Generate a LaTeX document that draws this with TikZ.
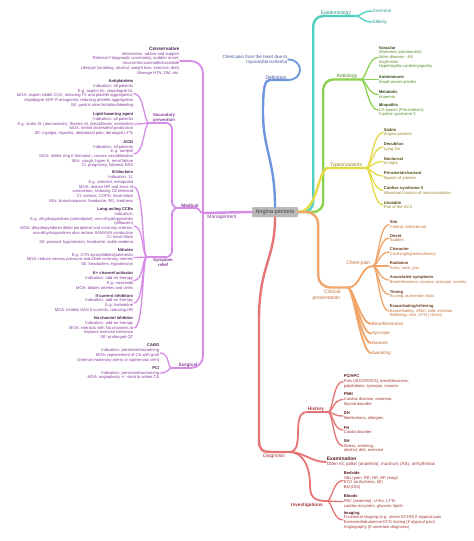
\documentclass[tikz,border=0pt]{standalone}
\usepackage{fontspec}
\setmainfont{Liberation Sans}
\definecolor{cdef}{RGB}{108,150,222}\definecolor{tdef}{RGB}{60,80,150}
\definecolor{cepi}{RGB}{78,208,190}\definecolor{tepi}{RGB}{40,150,140}
\definecolor{caet}{RGB}{140,210,78}\definecolor{taet}{RGB}{85,140,40}
\definecolor{ctyp}{RGB}{228,218,72}\definecolor{ttyp}{RGB}{150,135,35}
\definecolor{ccli}{RGB}{242,165,105}\definecolor{tcli}{RGB}{195,110,55}
\definecolor{cdia}{RGB}{230,118,118}\definecolor{tdia}{RGB}{165,55,55}
\definecolor{cman}{RGB}{215,140,232}\definecolor{tman}{RGB}{135,60,155}
\newcommand{\hd}[1]{\textbf{\color{.!55!black}#1}}

\begin{document}
\begin{tikzpicture}[x=1pt, y=-1pt,
    every node/.style={inner sep=0.6pt},
    lab/.style={font=\fontsize{5}{5.6}\selectfont, align=center},
    labb/.style={font=\fontsize{4.7}{5.3}\selectfont\bfseries, align=center},
    item/.style={font=\fontsize{4.6}{5}\selectfont, anchor=west},
    leaf/.style={font=\fontsize{4.1}{4.7}\selectfont, align=left, anchor=west},
    leafl/.style={font=\fontsize{4.1}{4.7}\selectfont, align=right, anchor=east},
    mainbr/.style={line width=2.4pt, line cap=round},
    subbr/.style={line width=1.8pt, line cap=round},
    twig/.style={line width=1.3pt, line cap=round},
    rfork/.style={out=0, in=180, out distance=5pt, in distance=10pt},
    lfork/.style={out=180, in=0, out distance=5pt, in distance=10pt}]
  \path[use as bounding box, fill=white] (0,0) rectangle (474,541);

  % Central topic
  \node[fill=gray!55, rounded corners=1pt, text=black!75, minimum width=46pt, minimum height=10pt,
    font=\fontsize{5.6}{6}\selectfont] (ap) at (275,212) {Angina pectoris};

  % Definition
  \node[lab, anchor=south, text=tdef] (def) at (276,80) {Definition};
  \coordinate (deff) at (288,80);
  \node[font=\fontsize{4.5}{5}\selectfont, align=right, anchor=east, text=tdef] (defc) at (288,59.5)
    {Chest pain from the heart due to\\myocardial ischemia};
  \draw[mainbr, cdef] (ap.north) .. controls (275,160) and (263,150) .. (263,112)
    .. controls (263,86) and (265,80) .. (270,80) -- (deff);
  \draw[subbr, cdef] (deff) .. controls (304,80) and (304,59.5) .. (defc.east);

  % Epidemiology
  \node[lab, anchor=south, text=tepi] (epi) at (336,16) {Epidemiology};
  \coordinate (epif) at (356,16);
  \node[item, text=tepi] (common) at (372,11) {Common};
  \node[item, text=tepi] (elderly) at (372,22) {Elderly};
  \draw[mainbr, cepi, rounded corners=10pt] (ap.east) -- ++(15,0) |- (epif);
  \foreach \n in {common,elderly}
    \draw[twig, cepi] (epif) to[rfork] (\n.west);

  % Aetiology
  \node[lab, anchor=south, text=taet] (aet) at (347,79.5) {Aetiology};
  \coordinate (aetf) at (361,79.5);
  \node[leaf, text=taet] (vasc) at (378,57.5) {\hd{Vascular}\\Atheroma (commonest)\\Valve disease - AS\\Arrythmias\\Hypertrophic cardiomyopathy};
  \node[leaf, text=taet] (auto) at (378,79.5) {\hd{Autoimmune}\\Small vessel arteritis};
  \node[leaf, text=taet] (meta) at (378,94.5) {\hd{Metabolic}\\Anaemia};
  \node[leaf, text=taet] (idio) at (378,110) {\hd{Idiopathic}\\CA spasm (Prinzmetal's)\\Cardiac syndrome X};
  \draw[mainbr, caet, rounded corners=10pt] (ap.east) -- ++(25,0) |- (aetf);
  \foreach \n in {vasc,auto,meta,idio}
    \draw[twig, caet] (aetf) to[rfork] (\n.west);

  % Types/variants
  \node[lab, anchor=south, text=ttyp] (typ) at (346,168) {Types/variants};
  \coordinate (typf) at (366,168);
  \node[leaf, text=ttyp] (stable) at (383,132.5) {\hd{Stable}\\Angina pectoris};
  \node[leaf, text=ttyp] (decub) at (383,147) {\hd{Decubitus}\\Lying flat};
  \node[leaf, text=ttyp] (noct) at (383,161.5) {\hd{Nocturnal}\\At night};
  \node[leaf, text=ttyp] (prinz) at (383,176) {\hd{Prinzmetals/variant}\\Spasm of arteries};
  \node[leaf, text=ttyp] (csx) at (383,190.5) {\hd{Cardiac syndrome X}\\Abnormal function of microcirculation};
  \node[leaf, text=ttyp] (unst) at (383,205) {\hd{Unstable}\\Part of the ACS};
  \draw[mainbr, ctyp] (ap.east) .. controls (318,212) and (318,168) .. (328,168) -- (typf);
  \foreach \n in {stable,decub,noct,prinz,csx,unst}
    \draw[twig, ctyp] (typf) to[rfork] (\n.west);

  % Clinical presentation
  \coordinate (cpf) at (348,287.5);
  \node[lab, anchor=north east, align=right, text=tcli] (cp) at (341,289) {Clinical\\presentation};
  \draw[mainbr, ccli, rounded corners=12pt] (ap.east) -- ++(20,0) |- (cpf);
  \node[lab, anchor=south east, text=tcli] (chest) at (371,266) {Chest pain};
  \coordinate (chf) at (373,266);
  \draw[subbr, ccli] (cpf) to[out=0, in=180] (chf);
  \node[leaf, text=tcli] (site) at (389,224.5) {\hd{Site}\\Central, retrosternal};
  \node[leaf, text=tcli] (onset) at (389,238) {\hd{Onset}\\Sudden};
  \node[leaf, text=tcli] (charac) at (389,252) {\hd{Character}\\Crushing/tightness/heavy};
  \node[leaf, text=tcli] (radi) at (389,266) {\hd{Radiation}\\Arms, neck, jaw};
  \node[leaf, text=tcli] (assoc) at (389,280) {\hd{Associated symptoms}\\Breathlessness, nausea, syncope, anxiety};
  \node[leaf, text=tcli] (timing) at (389,294.5) {\hd{Timing}\\As long as exertion lasts};
  \node[leaf, text=tcli] (exac) at (389,311) {\hd{Exacerbating/relieving}\\Exacerbating: effort, cold, emotion\\Relieving: rest, GTN (<5min)};
  \foreach \n in {site,onset,charac,radi,assoc,timing,exac}
    \draw[twig, ccli] (chf) to[rfork] (\n.west);
  \node[item, text=tcli] (breath) at (371,324) {Breathlessness};
  \node[item, text=tcli] (sync) at (371,333.5) {Syncope};
  \node[item, text=tcli] (naus) at (371,343) {Nausea};
  \node[item, text=tcli] (sweat) at (371,353) {Sweating};
  \foreach \n in {breath,sync,naus,sweat}
    \draw[subbr, ccli] (cpf) to[rfork] (\n.west);

  % Diagnosis
  \coordinate (diaf) at (289,452);
  \node[lab, anchor=north, text=tdia] (dia) at (274,453.5) {Diagnosis};
  \draw[mainbr, cdia] (ap.south) .. controls (275,260) and (259,265) .. (259,320) -- (259,440)
    .. controls (259,450) and (262,452) .. (272,452) -- (diaf);
  \node[labb, anchor=south, text=tdia] (his) at (316,412) {History};
  \coordinate (hisf) at (328,412);
  \draw[subbr, cdia] (diaf) to[out=0, in=180] (his.south west) -- (hisf);
  \node[leaf, text=tdia] (pchpc) at (343,381.5) {\hd{PC/HPC}\\Pain (SOCRATES), breathlessness,\\palpitations, syncope, nausea};
  \node[leaf, text=tdia] (pmh) at (343,399.5) {\hd{PMH}\\Cardiac disease, anaemia,\\thyroid disorder};
  \node[leaf, text=tdia] (dh) at (343,416) {\hd{DH}\\Medications, allergies};
  \node[leaf, text=tdia] (fh) at (343,430) {\hd{FH}\\Cardio disorder};
  \node[leaf, text=tdia] (sh) at (343,446) {\hd{SH}\\Stress, smoking,\\alcohol, diet, exercise};
  \foreach \n in {pchpc,pmh,dh,fh,sh}
    \draw[twig, cdia] (hisf) to[rfork] (\n.west);
  \node[leaf, font=\fontsize{4.5}{4.9}\selectfont, text=tdia] (exa) at (326,462)
    {\hd{\fontsize{5}{4.9}\selectfont Examination}\\Often nil; pallor (anaemia), murmurs (AS), arrhythmias};
  \draw[subbr, cdia] (diaf) to[out=0, in=180] (exa.west);
  \coordinate (invf) at (327,501);
  \node[labb, anchor=north, text=tdia] (inv) at (307,502) {Investigations};
  \draw[subbr, cdia] (diaf) .. controls (304,452) and (310,468) .. (310,485)
    .. controls (310,497) and (314,501) .. (invf);
  \node[leaf, text=tdia] (bed) at (343,480.5) {\hd{Bedside}\\Obs (pain, RR, HR, BP, temp)\\ECG (arrhythmia, MI)\\BM (DM)};
  \node[leaf, text=tdia] (blo) at (343,501.5) {\hd{Bloods}\\FBC (anaemia), U+Es, LFTs\\cardiac enzymes, glucose, lipids};
  \node[leaf, text=tdia] (img) at (343,520) {\hd{Imaging}\\Functional imaging (e.g. stress ECHO) if atypical pain\\Exercise/dobutamine ECG testing (if atypical pain)\\Angiography (if uncertain diagnosis)};
  \foreach \n in {bed,blo,img}
    \draw[twig, cdia] (invf) to[rfork] (\n.west);

  % Management
  \coordinate (manf) at (203,213);
  \draw[mainbr, cman] (ap.west) -- (manf);
  \node[lab, anchor=north, text=tman] (man) at (222,214.5) {Management};
  \node[leafl, text=tman] (con) at (180,61) {\hd{\fontsize{4.8}{4.7}\selectfont Conservative}\\Information, advice and support\\Referral if diagnostic uncertainty, sudden onset,\\recurrent/uncontrolled/unstable\\Lifestyle (smoking, alcohol, weight loss, exercise, diet)\\Manage HTN, DM, etc.};
  \draw[subbr, cman, rounded corners=12pt] (manf) |- (con.east);
  % Medical
  \coordinate (medf) at (180,208);
  \node[labb, anchor=south, text=tman] (med) at (190,208) {Medical};
  \draw[subbr, cman] (manf) to[out=180, in=0] (196,208) -- (medf);
  \coordinate (spf) at (149,123);
  \node[labb, anchor=south, text=tman, font=\fontsize{4.3}{4.8}\selectfont\bfseries] (sp) at (164,123) {Secondary\\prevention};
  \draw[subbr, cman, rounded corners=6pt] (medf) -| (172,123) -- (spf);
  \coordinate (srf) at (147,257);
  \node[labb, anchor=north, text=tman, font=\fontsize{4.3}{4.8}\selectfont\bfseries] (sr) at (163,258) {Symptom\\relief};
  \draw[subbr, cman, rounded corners=6pt] (medf) -| (172,257) -- (srf);
  \node[leafl, text=tman] (anti) at (134,93.5) {\hd{Antiplatelets}\\Indication: all patients\\E.g. aspirin SL, clopidogrel SL\\MOA: aspirin inhibit COX, reducing TX and platelet aggregation;\\clopidogrel ADP R antagonist, reducing platelet aggregation\\SE: gastric ulcer/irritation/bleeding};
  \node[leafl, text=tman] (lipid) at (134,124) {\hd{Lipid-lowering agent}\\Indication: all patients\\E.g. statin SL (atorvastatin), fibrates SL (bezafibrate, ezetimibe)\\MOA: inhibit cholesterol production\\SE: myalgia, myositis, abdominal pain, deranged LFTs};
  \node[leafl, text=tman] (acei) at (134,154) {\hd{ACEi}\\Indication: all patients\\E.g. ramipril\\MOA: inhibit Ang II formation, causes vasodilatation\\SEs: cough, hyper K, renal failure\\CI: pregnancy, bilateral RAS};
  \foreach \n in {anti,lipid,acei}
    \draw[twig, cman] (spf) to[lfork] (\n.east);
  \node[leafl, text=tman] (bb) at (134,187) {\hd{B-blockers}\\Indication: 1L\\E.g. atenolol, metoprolol\\MOA: reduce HR and force of\\contraction, reducing O2 demand\\CI: asthma, COPD, heart block\\SEs: bronchospasm, headache, ED, tiredness};
  \node[leafl, text=tman] (ccb) at (134,226) {\hd{Long-acting CCBs}\\Indication:\\E.g. dihydropyridines (amlodipine), non-dihydropyridines\\(diltiazem)\\MOA: dihydropyridines dilate peripheral and coronary arteries;\\non-dihydropyridines also reduce SAN/AVN conduction\\CI: heart block\\SE: postural hypotension, headache, ankle oedema};
  \node[leafl, text=tman] (nit) at (134,257.5) {\hd{Nitrates}\\E.g. GTN spray/tablets/patches/iv\\MOA: reduce venous pressure and dilate coronary arteries\\SE: headaches, hypotension};
  \node[leafl, text=tman] (kca) at (134,280.5) {\hd{K+ channel activator}\\Indication: add-on therapy\\E.g. nicorandil\\MOA: dilates arteries and veins};
  \node[leafl, text=tman] (ifc) at (134,303) {\hd{If current inhibitors}\\Indication: add-on therapy\\E.g. ivabradine\\MOA: inhibits SAN If currents, reducing HR};
  \node[leafl, text=tman] (nac) at (134,328) {\hd{Na channel inhibitor}\\Indication: add-on therapy\\MOA: interacts with Na channels to\\improve exercise tolerance\\SE: prolonged QT};
  \foreach \n in {bb,ccb,nit,kca,ifc,nac}
    \draw[twig, cman] (srf) to[lfork] (\n.east);
  % Surgical
  \coordinate (surf) at (172,368);
  \node[labb, anchor=south, text=tman] (sur) at (188,368) {Surgical};
  \draw[subbr, cman, rounded corners=12pt] (manf) |- (surf);
  \node[leafl, text=tman] (cabg) at (160,353) {\hd{CABG}\\Indication: persistent/worsening\\MOA: replacement of CA with graft\\(internal mammary artery or saphenous vein)};
  \node[leafl, text=tman] (pci) at (160,373) {\hd{PCI}\\Indication: persistent/worsening\\MOA: angioplasty +/- stent to widen CA};
  \foreach \n in {cabg,pci}
    \draw[twig, cman] (surf) to[lfork] (\n.east);
\end{tikzpicture}
\end{document}
